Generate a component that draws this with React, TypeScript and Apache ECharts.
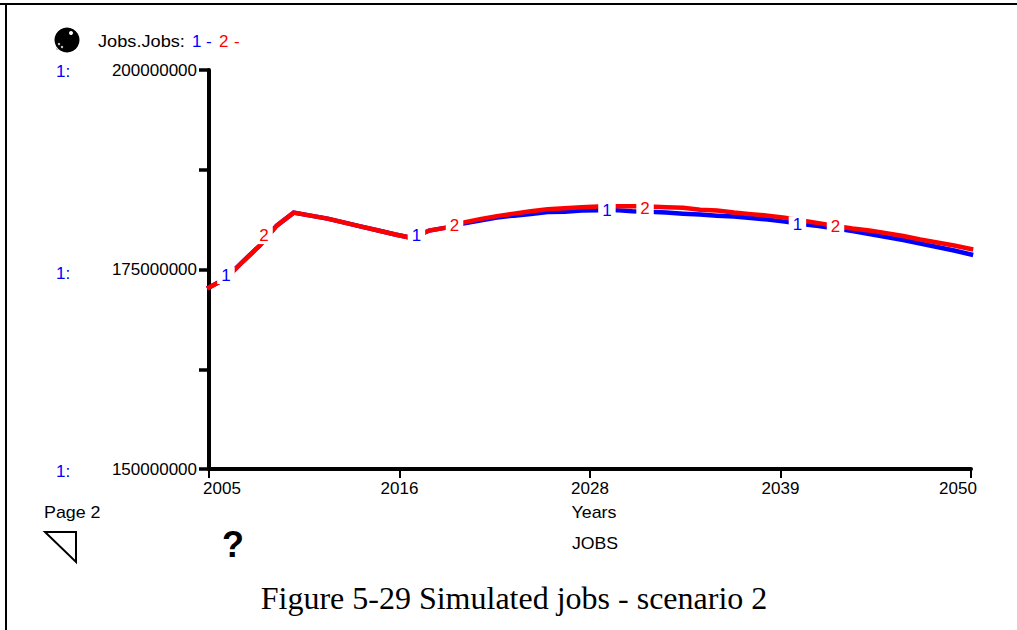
import React, { useEffect, useRef } from "react";
import * as echarts from "echarts";

const years = [2005,2006,2007,2008,2009,2010,2011,2012,2013,2014,2015,2016,2017,2018,2019,2020,2021,2022,2023,2024,2025,2026,2027,2028,2029,2030,2031,2032,2033,2034,2035,2036,2037,2038,2039,2040,2041,2042,2043,2044,2045,2046,2047,2048,2049,2050];
const jobs1 = [172.75,173.88,176.0,178.0,180.5,182.13,181.75,181.38,180.88,180.38,179.88,179.38,178.94,179.88,180.25,180.75,181.13,181.5,181.75,181.94,182.19,182.25,182.38,182.44,182.44,182.31,182.25,182.13,182.0,181.88,181.75,181.63,181.44,181.25,181.0,180.69,180.44,180.13,179.81,179.44,179.06,178.69,178.25,177.81,177.38,176.88];
const jobs2 = [172.75,173.88,176.0,178.0,180.5,182.13,181.75,181.38,180.88,180.38,179.88,179.38,178.94,179.88,180.25,180.88,181.31,181.69,182.0,182.31,182.56,182.69,182.81,182.88,182.94,182.94,182.88,182.81,182.75,182.5,182.38,182.13,181.94,181.75,181.5,181.13,180.81,180.44,180.13,179.88,179.56,179.19,178.75,178.38,178.0,177.56];
const marker1X = [2006, 2017.25, 2028.5, 2039.75];
const marker1Y = [174.25, 179.25, 182.4, 180.6];
const marker2X = [2008.25, 2019.5, 2030.75, 2042];
const marker2Y = [179.25, 180.5, 182.6, 180.4];
const xTicks = [2005, 2016.25, 2027.5, 2038.75, 2050];
const yLabelValues = [150000000, 175000000, 200000000];

const million = 1000000;
const SANS = "'Liberation Sans', Arial, sans-serif";
const BLUE = "#0000ff";
const RED = "#ff0000";

const toPoints = (xs: number[], ys: number[]) => xs.map((x, i) => [x, ys[i] * million]);

const t = (text: string, x: number, y: number, fill = "#000", extra: any = {}) => ({
  type: "text", x, y, scaleX: extra.scaleX ?? 1,
  style: { text, fill, font: `${extra.size ?? 17}px ${extra.family ?? SANS}`, textAlign: extra.align ?? "left", textVerticalAlign: "middle" },
});

export default function App() {
  const ref = useRef<HTMLDivElement>(null);
  useEffect(() => {
    const chart = echarts.init(ref.current!, null, { renderer: "svg" });
    const lineSeries = (name: string, values: number[], color: string, z: number) => ({
      type: "line", name, data: toPoints(years, values), showSymbol: false, z,
      lineStyle: { color, width: 4.5, cap: "square", join: "miter" }, itemStyle: { color },
    });
    const markerSeries = (text: string, xs: number[], ys: number[], color: string) => ({
      type: "scatter", data: toPoints(xs, ys), symbolSize: 1, z: 5,
      itemStyle: { color: "transparent", opacity: 1 },
      label: {
        show: true, position: "inside", formatter: text, color, opacity: 1,
        fontFamily: SANS, fontSize: 17, backgroundColor: "#fff", padding: [0, 4],
      },
    });
    chart.setOption({
      animation: false,
      backgroundColor: "#fff",
      grid: { left: 209, top: 70, width: 762, height: 399 },
      xAxis: {
        type: "value", min: 2005, max: 2050, splitLine: { show: false },
        axisLine: { show: true, lineStyle: { color: "#000", width: 4 } },
        axisTick: { show: true, customValues: xTicks, length: 9, lineStyle: { color: "#000", width: 2 } },
        axisLabel: {
          customValues: xTicks, margin: 11, color: "#000", fontFamily: SANS, fontSize: 17,
          formatter: (v: number) => {
            const s = String(Math.round(v));
            if (v === 2005) return `{first|${s}}`;
            if (v === 2050) return `{last|${s}}`;
            return s;
          },
          rich: {
            first: { padding: [0, 0, 0, 26], fontFamily: SANS, fontSize: 17, color: "#000" },
            last: { padding: [0, 26, 0, 0], fontFamily: SANS, fontSize: 17, color: "#000" },
          },
        },
      },
      yAxis: {
        type: "value", min: 150000000, max: 200000000, interval: 12500000, splitLine: { show: false },
        axisLine: { show: true, lineStyle: { color: "#000", width: 4 } },
        axisTick: { show: true, length: 10, lineStyle: { color: "#000", width: 3.5 } },
        axisLabel: {
          customValues: yLabelValues, margin: 12, color: "#000", fontFamily: SANS, fontSize: 17,
          formatter: (v: number) => String(v),
        },
      },
      series: [
        lineSeries("1", jobs1, BLUE, 2),
        lineSeries("2", jobs2, RED, 3),
        markerSeries("1", marker1X, marker1Y, BLUE),
        markerSeries("2", marker2X, marker2Y, RED),
      ],
      graphic: [
        { type: "line", shape: { x1: 0, y1: 4, x2: 1017, y2: 4 }, style: { stroke: "#000", lineWidth: 2 } },
        { type: "line", shape: { x1: 6, y1: 4, x2: 6, y2: 630 }, style: { stroke: "#000", lineWidth: 2 } },
        { type: "circle", shape: { cx: 67, cy: 40, r: 12.5 }, style: { fill: "#000" } },
        { type: "circle", shape: { cx: 71, cy: 33, r: 2 }, style: { fill: "#fff" } },
        { type: "circle", shape: { cx: 59, cy: 44, r: 1.2 }, style: { fill: "#ccc" } },
        { type: "circle", shape: { cx: 62, cy: 47, r: 1.2 }, style: { fill: "#ccc" } },
        { type: "circle", shape: { cx: 57, cy: 49, r: 1.2 }, style: { fill: "#ccc" } },
        t("Jobs.Jobs:", 98, 41, "#000", { scaleX: 1.07 }),
        t("1", 192, 41, BLUE),
        t("-", 206, 41, BLUE),
        t("2", 219, 41, RED),
        t("-", 234, 41, RED),
        t("1:", 56, 71, BLUE),
        t("1:", 56, 273, BLUE),
        t("1:", 56, 471, BLUE),
        t("Page 2", 44, 512, "#000", { scaleX: 1.05 }),
        { type: "polygon", shape: { points: [[45, 532], [76, 532], [76, 562]] }, style: { fill: "#fff", stroke: "#000", lineWidth: 2 } },
        { type: "text", x: 233, y: 544, style: { text: "?", fill: "#000", font: `bold 36px ${SANS}`, textAlign: "center", textVerticalAlign: "middle" } },
        t("Years", 594, 512, "#000", { align: "center", scaleX: 1.05 }),
        t("JOBS", 595, 543, "#000", { align: "center", scaleX: 1.04 }),
        t("Figure 5-29 Simulated jobs - scenario 2", 514, 598, "#000", { size: 32, family: "'Liberation Serif', 'Times New Roman', serif", align: "center" }),
      ],
    });
    return () => chart.dispose();
  }, []);
  return <div ref={ref} style={{ position: "fixed", left: 0, top: 0, width: 1017, height: 630 }} />;
}
